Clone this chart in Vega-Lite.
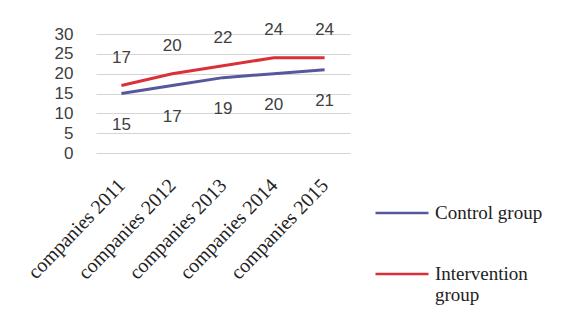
{
  "$schema": "https://vega.github.io/schema/vega-lite/v6.json",
  "width": 254,
  "height": 119,
  "autosize": {"type": "none"},
  "padding": {"left": 96, "top": 34, "right": 236, "bottom": 161},
  "background": "white",
  "data": {"values": [
    {"year": "companies 2011", "group": "Control group", "value": 15},
    {"year": "companies 2012", "group": "Control group", "value": 17},
    {"year": "companies 2013", "group": "Control group", "value": 19},
    {"year": "companies 2014", "group": "Control group", "value": 20},
    {"year": "companies 2015", "group": "Control group", "value": 21},
    {"year": "companies 2011", "group": "Intervention group", "value": 17},
    {"year": "companies 2012", "group": "Intervention group", "value": 20},
    {"year": "companies 2013", "group": "Intervention group", "value": 22},
    {"year": "companies 2014", "group": "Intervention group", "value": 24},
    {"year": "companies 2015", "group": "Intervention group", "value": 24}
  ]},
  "encoding": {
    "x": {"field": "year", "type": "ordinal", "scale": {"type": "point", "padding": 0.5},
      "axis": {"title": null, "labelAngle": -46, "labelAlign": "right", "labelBaseline": "middle", "labelFont": "Liberation Serif", "labelFontSize": 20, "labelColor": "#222222", "labelPadding": 29, "ticks": false, "domain": false, "grid": false}},
    "y": {"field": "value", "type": "quantitative", "scale": {"domain": [0, 30], "nice": false},
      "axis": {"title": null, "values": [0, 5, 10, 15, 20, 25, 30], "labelFont": "Liberation Sans", "labelFontSize": 17, "labelColor": "#404040", "labelPadding": 23, "ticks": false, "domain": false, "grid": true, "gridColor": "#d4d4d4", "gridWidth": 1.2}}
  },
  "layer": [
    {
      "mark": {"type": "line", "strokeWidth": 3},
      "encoding": {
        "color": {"field": "group", "type": "nominal",
          "scale": {"domain": ["Control group", "Intervention group"], "range": ["#55599c", "#dc3039"]},
          "legend": {"title": null, "orient": "none", "legendX": 278, "legendY": 151, "direction": "vertical",
            "symbolType": "stroke", "symbolSize": 2809, "symbolStrokeWidth": 2.5, "rowPadding": 23,
            "labelFont": "Liberation Serif", "labelFontSize": 19, "labelColor": "#222222", "labelOffset": 5, "labelBaseline": "middle",
            "labelExpr": "datum.label == 'Intervention group' ? ['Intervention', 'group'] : datum.label", "labelLimit": 300}}
      }
    },
    {
      "transform": [{"filter": "datum.group == 'Control group'"}],
      "mark": {"type": "text", "dy": 31, "font": "Liberation Sans", "fontSize": 17, "color": "#404040", "baseline": "middle"},
      "encoding": {"text": {"field": "value", "type": "quantitative"}}
    },
    {
      "transform": [{"filter": "datum.group == 'Intervention group'"}],
      "mark": {"type": "text", "dy": -28, "font": "Liberation Sans", "fontSize": 17, "color": "#404040", "baseline": "middle"},
      "encoding": {"text": {"field": "value", "type": "quantitative"}}
    }
  ],
  "config": {"view": {"stroke": null}}
}
